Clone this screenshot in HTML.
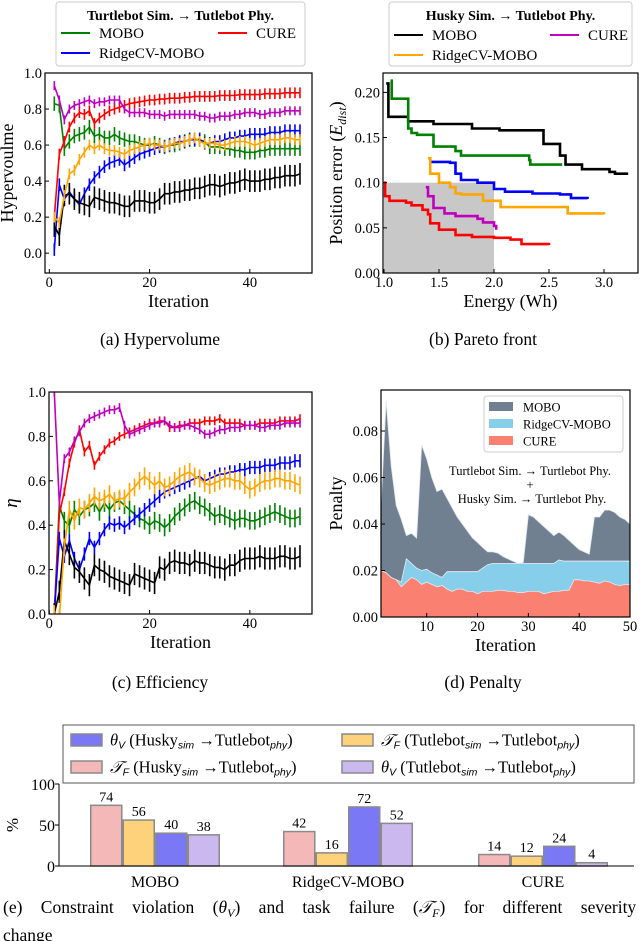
<!DOCTYPE html>
<html><head><meta charset="utf-8">
<style>
html,body{margin:0;padding:0;background:#fff;}
svg{display:block;font-family:"Liberation Serif",serif;}
</style></head>
<body>
<svg id="fig" width="640" height="941" viewBox="0 0 640 941" xmlns="http://www.w3.org/2000/svg"></svg>
<script>
// ---------- Panel (a) Hypervolume data ----------
const iterations = Array.from({length:50},(_,i)=>i+1);
const hvTurtleMOBO = [0.83,0.82,0.58,0.62,0.65,0.66,0.67,0.70,0.65,0.66,0.64,0.64,0.66,0.64,0.63,0.62,0.62,0.61,0.60,0.60,0.61,0.60,0.59,0.60,0.60,0.61,0.62,0.63,0.63,0.63,0.62,0.59,0.59,0.59,0.58,0.58,0.57,0.57,0.56,0.56,0.56,0.57,0.57,0.58,0.58,0.58,0.58,0.58,0.58,0.58];
const hvTurtleCURE = [0.20,0.55,0.62,0.70,0.75,0.78,0.77,0.79,0.72,0.75,0.77,0.79,0.80,0.81,0.82,0.83,0.835,0.84,0.845,0.85,0.85,0.855,0.855,0.86,0.86,0.86,0.865,0.865,0.87,0.87,0.87,0.87,0.87,0.875,0.875,0.875,0.875,0.88,0.88,0.88,0.88,0.88,0.885,0.885,0.885,0.885,0.89,0.89,0.89,0.89];
const hvTurtleRidge = [0.02,0.38,0.30,0.34,0.30,0.27,0.33,0.38,0.42,0.45,0.48,0.50,0.51,0.52,0.49,0.51,0.53,0.55,0.56,0.57,0.58,0.59,0.59,0.60,0.61,0.62,0.62,0.63,0.63,0.63,0.61,0.61,0.62,0.62,0.63,0.64,0.64,0.65,0.65,0.66,0.66,0.66,0.66,0.67,0.67,0.67,0.68,0.68,0.68,0.68];
const hvHuskyMOBO = [0.15,0.10,0.32,0.33,0.30,0.28,0.27,0.26,0.31,0.30,0.29,0.28,0.28,0.27,0.26,0.26,0.29,0.29,0.29,0.28,0.28,0.30,0.33,0.33,0.34,0.34,0.35,0.35,0.36,0.36,0.37,0.38,0.38,0.37,0.38,0.39,0.39,0.40,0.41,0.40,0.40,0.40,0.41,0.41,0.42,0.42,0.43,0.43,0.43,0.44];
const hvHuskyRidge = [0.20,0.17,0.32,0.44,0.46,0.52,0.56,0.60,0.58,0.60,0.58,0.57,0.57,0.56,0.55,0.57,0.58,0.59,0.60,0.61,0.60,0.60,0.59,0.60,0.61,0.61,0.62,0.63,0.64,0.62,0.61,0.61,0.61,0.60,0.60,0.61,0.62,0.62,0.62,0.61,0.60,0.61,0.62,0.63,0.63,0.63,0.64,0.64,0.63,0.63];
const hvHuskyCURE = [0.93,0.85,0.74,0.80,0.82,0.83,0.84,0.85,0.83,0.84,0.84,0.85,0.85,0.85,0.80,0.78,0.78,0.78,0.78,0.77,0.77,0.77,0.76,0.77,0.77,0.77,0.77,0.77,0.77,0.76,0.76,0.75,0.75,0.76,0.76,0.76,0.77,0.77,0.78,0.78,0.78,0.77,0.77,0.78,0.78,0.78,0.79,0.79,0.79,0.79];
const hvErr = [0.04,0.03,0.035,0.06,0.03,0.025];
const lineXTicks = [0,20,40];
const hvYTicks = [0.0,0.2,0.4,0.6,0.8,1.0];

// ---------- Panel (c) Efficiency data ----------
const effTurtleMOBO = [0,0.49,0.42,0.40,0.47,0.44,0.47,0.48,0.50,0.46,0.50,0.47,0.50,0.51,0.49,0.47,0.45,0.43,0.42,0.40,0.42,0.41,0.39,0.41,0.44,0.46,0.48,0.50,0.51,0.49,0.48,0.46,0.44,0.45,0.44,0.43,0.42,0.43,0.43,0.42,0.42,0.43,0.44,0.45,0.46,0.45,0.44,0.43,0.43,0.44];
const effTurtleCURE = [0,0.45,0.55,0.68,0.77,0.83,0.73,0.76,0.67,0.71,0.74,0.77,0.78,0.80,0.81,0.82,0.83,0.84,0.85,0.86,0.86,0.87,0.87,0.84,0.84,0.85,0.85,0.86,0.86,0.86,0.87,0.87,0.87,0.88,0.86,0.86,0.86,0.86,0.85,0.85,0.85,0.86,0.86,0.86,0.86,0.87,0.87,0.87,0.87,0.88];
const effTurtleRidge = [0,0.34,0.26,0.33,0.25,0.20,0.27,0.34,0.30,0.34,0.38,0.41,0.40,0.41,0.39,0.41,0.43,0.45,0.47,0.49,0.51,0.53,0.55,0.56,0.57,0.58,0.59,0.60,0.61,0.62,0.60,0.61,0.62,0.63,0.63,0.64,0.64,0.65,0.65,0.66,0.66,0.66,0.67,0.67,0.67,0.68,0.68,0.68,0.69,0.69];
const effHuskyMOBO = [0,0.10,0.33,0.27,0.21,0.19,0.16,0.13,0.22,0.20,0.19,0.17,0.16,0.15,0.14,0.13,0.18,0.17,0.16,0.15,0.14,0.21,0.20,0.23,0.24,0.23,0.23,0.22,0.24,0.23,0.23,0.22,0.21,0.21,0.20,0.22,0.22,0.24,0.25,0.25,0.25,0.26,0.25,0.25,0.25,0.26,0.26,0.25,0.25,0.26];
const effHuskyRidge = [0,-0.02,0.30,0.47,0.42,0.48,0.47,0.50,0.53,0.51,0.52,0.54,0.51,0.52,0.52,0.55,0.57,0.60,0.62,0.60,0.58,0.60,0.57,0.58,0.60,0.62,0.63,0.64,0.62,0.61,0.59,0.58,0.59,0.60,0.61,0.61,0.60,0.60,0.58,0.56,0.57,0.59,0.60,0.60,0.61,0.61,0.60,0.60,0.59,0.58];
const effHuskyCURE = [1.0,0.50,0.70,0.73,0.78,0.82,0.86,0.88,0.89,0.90,0.91,0.92,0.92,0.93,0.85,0.81,0.82,0.83,0.84,0.85,0.86,0.86,0.87,0.85,0.84,0.84,0.85,0.85,0.84,0.83,0.81,0.81,0.82,0.83,0.83,0.84,0.84,0.84,0.85,0.85,0.85,0.84,0.84,0.85,0.85,0.85,0.86,0.86,0.86,0.86];
const effErr = [0.04,0.02,0.03,0.05,0.04,0.02];
const effYTicks = [0.0,0.2,0.4,0.6,0.8,1.0];

// ---------- Panel (b) Pareto data ----------
const paretoMOBOHuskyE = [1.02,1.04,1.2,1.22,1.45,1.8,2.05,2.45,2.6,2.65,2.8,3.05,3.1,3.22];
const paretoMOBOHuskyErr = [0.21,0.173,0.173,0.168,0.165,0.16,0.158,0.143,0.13,0.12,0.115,0.112,0.11,0.11];
const paretoMOBOTurtleE = [1.06,1.07,1.2,1.22,1.25,1.3,1.45,1.65,1.7,2.32,2.33,2.62];
const paretoMOBOTurtleErr = [0.213,0.193,0.193,0.16,0.155,0.153,0.14,0.135,0.13,0.125,0.12,0.12];
const paretoRidgeTurtleE = [1.43,1.6,1.65,1.7,1.85,2.0,2.1,2.35,2.6,2.7,2.85];
const paretoRidgeTurtleErr = [0.123,0.122,0.11,0.103,0.1,0.093,0.09,0.088,0.087,0.083,0.082];
const paretoRidgeHuskyE = [1.4,1.42,1.5,1.6,1.65,1.7,1.9,2.05,2.06,2.65,2.67,3.0];
const paretoRidgeHuskyErr = [0.127,0.11,0.1,0.095,0.088,0.087,0.08,0.08,0.073,0.073,0.066,0.065];
const paretoCUREHuskyE = [1.38,1.4,1.45,1.55,1.65,1.85,1.9,2.0,2.02];
const paretoCUREHuskyErr = [0.095,0.085,0.072,0.066,0.063,0.06,0.056,0.052,0.048];
const paretoCURETurtleE = [1.0,1.01,1.05,1.2,1.25,1.35,1.4,1.42,1.5,1.65,1.8,2.0,2.15,2.25,2.5];
const paretoCURETurtleErr = [0.1,0.085,0.08,0.078,0.075,0.07,0.065,0.055,0.048,0.042,0.04,0.039,0.037,0.032,0.031];
const paretoXTicks = [1.0,1.5,2.0,2.5,3.0];
const paretoYTicks = [0.00,0.05,0.10,0.15,0.20];

// ---------- Panel (d) Penalty data (stacked) ----------
const penaltyCURE = [0.02,0.019,0.017,0.016,0.013,0.015,0.017,0.016,0.014,0.015,0.014,0.013,0.0135,0.012,0.011,0.012,0.012,0.011,0.011,0.010,0.011,0.011,0.011,0.0115,0.0115,0.011,0.011,0.0105,0.0105,0.011,0.011,0.011,0.010,0.0105,0.011,0.011,0.0115,0.0115,0.016,0.016,0.0155,0.0155,0.015,0.0145,0.0155,0.015,0.014,0.0135,0.014,0.014];
const penaltyRidgeTop = [0.02,0.019,0.017,0.016,0.015,0.025,0.023,0.021,0.020,0.0205,0.019,0.018,0.017,0.0195,0.0195,0.0195,0.0195,0.0195,0.0195,0.0195,0.021,0.0225,0.023,0.023,0.023,0.023,0.023,0.023,0.023,0.023,0.023,0.023,0.023,0.023,0.023,0.0245,0.024,0.024,0.024,0.024,0.024,0.024,0.024,0.024,0.024,0.024,0.024,0.024,0.024,0.024];
const penaltyMOBOTop = [0.048,0.093,0.065,0.048,0.042,0.035,0.036,0.034,0.074,0.068,0.06,0.054,0.055,0.051,0.047,0.043,0.04,0.037,0.034,0.032,0.03,0.028,0.028,0.0275,0.026,0.025,0.024,0.023,0.0235,0.044,0.043,0.041,0.039,0.037,0.035,0.0365,0.035,0.033,0.031,0.029,0.028,0.027,0.043,0.043,0.046,0.046,0.045,0.043,0.042,0.040];
const penaltyXTicks = [10,20,30,40,50];
const penaltyYTicks = [0.00,0.02,0.04,0.06,0.08];

// ---------- Panel (e) bars ----------
const barGroups = ["MOBO","RidgeCV-MOBO","CURE"];
const taskFailHusky = [74,42,14];
const taskFailTurtle = [56,16,12];
const violHusky = [40,72,24];
const violTurtle = [38,52,4];
const barYTicks = [0,50,100];

const NS="http://www.w3.org/2000/svg";
const svg=document.getElementById('fig');
function mk(tag,attrs,parent){const e=document.createElementNS(NS,tag);for(const k in attrs)e.setAttribute(k,attrs[k]);(parent||svg).appendChild(e);return e;}
function txt(s,x,y,size,anchor,parent,extra){const t=mk('text',Object.assign({x:x,y:y,'font-size':size,'text-anchor':anchor||'middle',fill:'#000'},extra||{}),parent);t.textContent=s;return t;}
function lin(d0,d1,r0,r1){return v=>r0+(v-d0)/(d1-d0)*(r1-r0);}

function frame(g,L,T,R,B){mk('rect',{x:L,y:T,width:R-L,height:B-T,fill:'none',stroke:'#000','stroke-width':1.2},g);}
function yTicks(g,ticks,sy,L,fmt,size){ticks.forEach(v=>{const y=sy(v);mk('line',{x1:L,x2:L+4,y1:y,y2:y,stroke:'#000'},g);const t=txt(fmt(v),L-3,y+5,size||14.5,'end',g);});}
function xTicks(g,ticks,sx,B,fmt,size){ticks.forEach(v=>{const x=sx(v);mk('line',{x1:x,x2:x,y1:B,y2:B-4,stroke:'#000'},g);const t=txt(fmt(v),x,B+14,size||14.5,'middle',g);});}

const lineColors=['#008000','#ff0000','#0000ff','#000000','#ffa500','#bf00bf'];
const lineNames=['mobo-turtlebot','cure-turtlebot','ridgecv-turtlebot','mobo-husky','ridgecv-husky','cure-husky'];

function lineChart(name,L,T,R,B,ymin,ymax,series,errs,yt,ylabel,ylabelItalic){
  const g=mk('g',{});
  
  
  const sx=lin(0,52.4,49.3,312), sy=lin(ymin,ymax,B,T);
  const cp=mk('clipPath',{id:name+'-clip'},g);mk('rect',{x:L,y:T,width:R-L,height:B-T},cp);
  const pg=mk('g',{'clip-path':'url(#'+name+'-clip)'},g);
  series.forEach((s,k)=>{
    const sg=mk('g',{},pg);
    
    
    const pts=s.map((v,i)=>sx(iterations[i]).toFixed(1)+','+sy(v).toFixed(1)).join(' ');
    s.forEach((v,i)=>{const x=sx(iterations[i]);mk('line',{x1:x,x2:x,y1:sy(v-errs[k]),y2:sy(v+errs[k]),stroke:lineColors[k],'stroke-width':1.6},sg);});
    mk('polyline',{points:pts,fill:'none',stroke:lineColors[k],'stroke-width':1.6},sg);
  });
  frame(g,L,T,R,B);
  yTicks(g,yt,sy,L,v=>v.toFixed(1));
  xTicks(g,lineXTicks,sx,B,v=>String(v));
  const xl=txt('Iteration',(L+R)/2,B+34,18,'middle',g);
  const yl=txt(ylabel,0,0,ylabelItalic?19:18,'middle',g,{transform:'translate('+(L-32)+','+((T+B)/2)+') rotate(-90)'});
  if(ylabelItalic)yl.setAttribute('font-style','italic');
  
  return g;
}

lineChart('hypervolume-chart',45,73,312,273,-0.11,1.0,[hvTurtleMOBO,hvTurtleCURE,hvTurtleRidge,hvHuskyMOBO,hvHuskyRidge,hvHuskyCURE],hvErr,hvYTicks,'Hypervoulme',false);
lineChart('efficiency-chart',49,392,312,614,0,1.0,[effTurtleMOBO,effTurtleCURE,effTurtleRidge,effHuskyMOBO,effHuskyRidge,effHuskyCURE],effErr,effYTicks,'η',true);

// legends for (a) and (b)
function lineLegend(name,L,T,R,B,title,entries){
  const g=mk('g',{});
  
  
  mk('rect',{x:L,y:T,width:R-L,height:B-T,rx:3,fill:'#fff',stroke:'#ccc'},g);
  const tt=txt(title,(L+R)/2,T+18,14,'middle',g);tt.setAttribute('font-weight','bold');
  entries.forEach(e=>{
    const eg=mk('g',{},g);
    
    
    mk('line',{x1:e.x,x2:e.x+29,y1:e.y,y2:e.y,stroke:e.c,'stroke-width':2},eg);
    txt(e.t,e.x+38,e.y+5,15,'start',eg);
  });
}
lineLegend('hypervolume-legend',56,2,305,66,'Turtlebot Sim. → Tutlebot Phy.',[{x:61,y:33,c:'#008000',t:'MOBO'},{x:218,y:33,c:'#ff0000',t:'CURE'},{x:61,y:53,c:'#0000ff',t:'RidgeCV-MOBO'}]);
lineLegend('pareto-legend',389,2,632,66,'Husky Sim. → Tutlebot Phy.',[{x:394,y:35,c:'#000000',t:'MOBO'},{x:550,y:35,c:'#bf00bf',t:'CURE'},{x:394,y:55,c:'#ffa500',t:'RidgeCV-MOBO'}]);

// ---------- Pareto chart ----------
(function(){
  const L=383,T=73,R=638,B=273;
  const g=mk('g',{});
  
  
  const sx=lin(1.0,3.0,384,604), sy=lin(0,0.1,B,182.7);
  const box=mk('rect',{x:sx(1.0),y:sy(0.1),width:sx(2.0)-sx(1.0),height:sy(0)-sy(0.1),fill:'#c8c8c8'},g);
  
  
  const sets=[[paretoMOBOHuskyE,paretoMOBOHuskyErr,'#000000','mobo-husky'],[paretoMOBOTurtleE,paretoMOBOTurtleErr,'#008000','mobo-turtlebot'],[paretoRidgeTurtleE,paretoRidgeTurtleErr,'#0000ff','ridgecv-turtlebot'],[paretoRidgeHuskyE,paretoRidgeHuskyErr,'#ffa500','ridgecv-husky'],[paretoCUREHuskyE,paretoCUREHuskyErr,'#bf00bf','cure-husky'],[paretoCURETurtleE,paretoCURETurtleErr,'#ff0000','cure-turtlebot']];
  sets.forEach(s=>{
    const E=s[0],Y=s[1];let d='M'+sx(E[0]).toFixed(1)+','+sy(Y[0]).toFixed(1);
    for(let i=1;i<E.length;i++){d+=' L'+sx(E[i]).toFixed(1)+','+sy(Y[i-1]).toFixed(1)+' L'+sx(E[i]).toFixed(1)+','+sy(Y[i]).toFixed(1);}
    const p=mk('path',{d:d,fill:'none',stroke:s[2],'stroke-width':2.6},g);
    
    
  });
  frame(g,L,T,R,B);
  yTicks(g,paretoYTicks,sy,L,v=>v.toFixed(2));
  xTicks(g,paretoXTicks,sx,B,v=>v.toFixed(1));
  const xl=txt('Energy (Wh)',(L+R)/2,B+34,18,'middle',g);
  const yl=mk('text',{x:0,y:0,'font-size':18,'text-anchor':'middle',transform:'translate(342,'+((T+B)/2)+') rotate(-90)'},g);
  
  yl.innerHTML='Position error (<tspan font-style="italic">E</tspan><tspan font-size="12" font-style="italic" dy="4">dist</tspan><tspan dy="-4">)</tspan>';
})();

// ---------- Penalty chart ----------
(function(){
  const L=381,T=390,R=630,B=617;
  const g=mk('g',{});
  
  
  const sx=lin(1,50,L,R), sy=lin(0,0.02,B,B-46.5);
  function area(top,bot,fill,name){
    let d='M'+sx(iterations[0])+','+sy(bot?bot[0]:0);
    top.forEach((v,i)=>{d+=' L'+sx(iterations[i]).toFixed(1)+','+sy(v).toFixed(1);});
    for(let i=top.length-1;i>=0;i--){d+=' L'+sx(iterations[i]).toFixed(1)+','+sy(bot?bot[i]:0).toFixed(1);}
    d+='Z';
    const p=mk('path',{d:d,fill:fill,stroke:'#dfe6ee','stroke-width':0.8},g);
    
    
  }
  area(penaltyMOBOTop,penaltyRidgeTop,'#708090','mobo-area');
  area(penaltyRidgeTop,penaltyCURE,'#87ceeb','ridgecv-area');
  area(penaltyCURE,null,'#fa8072','cure-area');
  frame(g,L,T,R,B);
  yTicks(g,penaltyYTicks,sy,L,v=>v.toFixed(2));
  xTicks(g,penaltyXTicks,sx,B,v=>String(v));
  const xl=txt('Iteration',(L+R)/2,B+34,18,'middle',g);
  const yl=txt('Penalty',0,0,18,'middle',g,{transform:'translate(342,'+((T+B)/2)+') rotate(-90)'});
  const lg=mk('g',{},g);
  
  
  mk('rect',{x:484,y:396,width:139,height:56,rx:3,fill:'#fff',stroke:'#ccc'},lg);
  [['MOBO','#708090',407],['RidgeCV-MOBO','#87ceeb',424],['CURE','#fa8072',441]].forEach(e=>{
    const eg=mk('g',{},lg);
    
    
    mk('rect',{x:489,y:e[2]-5,width:24,height:9,fill:e[1]},eg);
    txt(e[0],523,e[2]+4.5,12.5,'start',eg);
  });
  const an=mk('g',{},g);
  
  
  txt('Turtlebot Sim. → Turtlebot Phy.',530,475,12.5,'middle',an);
  txt('+',530,489,12.5,'middle',an);
  txt('Husky Sim. → Turtlebot Phy.',532,503,12.5,'middle',an);
})();

// ---------- Bar chart ----------
(function(){
  const L=59,B=866;
  const g=mk('g',{});
  
  
  const sy=lin(0,100,B,784);
  const groupX=[155,348,543];
  const series=[[taskFailHusky,'#f5b8b8','task-failure-husky'],[taskFailTurtle,'#fdd27a','task-failure-turtlebot'],[violHusky,'#7b78f5','violation-husky'],[violTurtle,'#cbb8ee','violation-turtlebot']];
  const bw=31,step=32.5;
  series.forEach((s,k)=>{
    s[0].forEach((v,j)=>{
      const x=groupX[j]+(k-1.5)*step-bw/2;
      const r=mk('rect',{x:x,y:sy(v),width:bw,height:B-sy(v),fill:s[1],stroke:'#8a8a8a','stroke-width':1.5},g);
      
      
      const t=txt(String(v),x+bw/2,sy(v)-4,14,'middle',g);
      
      
    });
  });
  mk('line',{x1:L,x2:634,y1:B,y2:B,stroke:'#000'},g);
  mk('line',{x1:L,x2:L,y1:B,y2:784,stroke:'#000'},g);
  barYTicks.forEach(v=>{const y=sy(v);mk('line',{x1:L-4,x2:L,y1:y,y2:y,stroke:'#000'},g);const t=txt(String(v),L-4,y+6,16,'end',g);});
  barGroups.forEach((n,j)=>{const t=txt(n,groupX[j],B+21,16,'middle',g);});
  const yl=txt('%',0,0,17,'middle',g,{transform:'translate(18,825) rotate(-90)'});
  
  // legend
  const lg=mk('g',{},g);
  
  
  mk('rect',{x:63,y:725,width:571,height:58,fill:'#fff',stroke:'#555'},lg);
  const ent=[[71,740,'#7b78f5','θ','V','Husky'],[342,740,'#fdd27a','𝒯','F','Tutlebot'],[71,767,'#f5b8b8','𝒯','F','Husky'],[342,767,'#cbb8ee','θ','V','Tutlebot']];
  ent.forEach(e=>{
    const eg=mk('g',{},lg);
    
    
    mk('rect',{x:e[0],y:e[1]-6,width:31,height:12,fill:e[2],stroke:'#8a8a8a','stroke-width':1.5},eg);
    const t=mk('text',{x:e[0]+39,y:e[1]+5.5,'font-size':16.5,fill:'#000'},eg);
    t.innerHTML='<tspan font-style="italic">'+e[3]+'</tspan><tspan font-size="10.5" font-family="Liberation Sans, sans-serif" font-style="italic" dy="3">'+e[4]+'</tspan><tspan dy="-3"> ('+e[5]+'</tspan><tspan font-size="10.5" font-family="Liberation Sans, sans-serif" font-style="italic" dy="3">sim</tspan><tspan dy="-3"> →Tutlebot</tspan><tspan font-size="10.5" font-family="Liberation Sans, sans-serif" font-style="italic" dy="3">phy</tspan><tspan dy="-3">)</tspan>';
  });
})();

// ---------- Captions ----------
[['(a) Hypervolume',160,345,'caption-a'],['(b) Pareto front',483,345,'caption-b'],['(c) Efficiency',160,688,'caption-c'],['(d) Penalty',483,688,'caption-d']].forEach(c=>{
  const t=txt(c[0],c[1],c[2],17.5,'middle');
  
  
});
const ce=mk('text',{x:3,y:913,'font-size':17.5,fill:'#000','word-spacing':'14'});


ce.innerHTML='(e) Constraint violation (<tspan font-style="italic">θ</tspan><tspan font-size="12" font-style="italic" dy="4">V</tspan><tspan dy="-4">) and task failure (</tspan><tspan font-style="italic">𝒯</tspan><tspan font-size="12" font-style="italic" dy="4">F</tspan><tspan dy="-4">) for different severity</tspan>';
const ce2=txt('change',3,941,17.5,'start');


</script>
</body></html>
